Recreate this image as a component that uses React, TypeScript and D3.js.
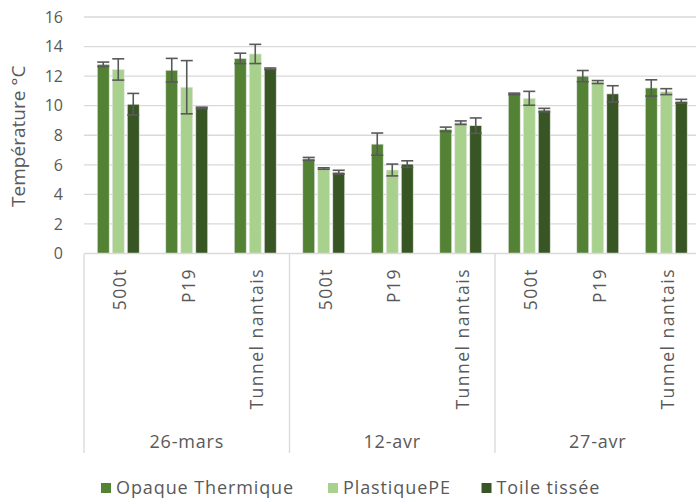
import React, { useRef, useEffect } from 'react';
import * as d3 from 'd3';

const dates = ['26-mars', '12-avr', '27-avr'];
const sites = ['500t', 'P19', 'Tunnel nantais'];
const seriesNames = ['Opaque Thermique', 'PlastiquePE', 'Toile tissée'];
const seriesColors = ['#548235', '#A9D18E', '#375623'];

// one value per date x site, in the order of dates then sites
const opaque = [12.8, 12.4, 13.2, 6.4, 7.4, 8.4, 10.8, 12.0, 11.2];
const opaqueErr = [0.15, 0.8, 0.35, 0.1, 0.75, 0.15, 0.05, 0.38, 0.55];
const plastique = [12.45, 11.25, 13.5, 5.75, 5.65, 8.85, 10.5, 11.6, 10.95];
const plastiqueErr = [0.72, 1.8, 0.65, 0.05, 0.4, 0.12, 0.47, 0.1, 0.2];
const toile = [10.1, 9.85, 12.5, 5.5, 6.05, 8.65, 9.7, 10.8, 10.3];
const toileErr = [0.73, 0.05, 0.05, 0.13, 0.22, 0.52, 0.12, 0.55, 0.13];
const yTicks = [0, 2, 4, 6, 8, 10, 12, 14, 16];

const values = [opaque, plastique, toile];
const errors = [opaqueErr, plastiqueErr, toileErr];

const FONT = '"Open Sans", Lato, sans-serif';
const TEXT = '#595959';

const App = () => {
  const ref = useRef(null);

  useEffect(() => {
    if (!ref.current) return;
    d3.select(ref.current).html('');

    const W = 696;
    const H = 502;
    const left = 84;
    const right = 700.5;
    const top = 17;
    const bottom = 253.5;

    const svg = d3
      .select(ref.current)
      .append('svg')
      .attr('width', W)
      .attr('height', H)
      .style('display', 'block')
      .style('font-family', FONT);

    const cats = dates.flatMap(d => sites.map(s => `${d}|${s}`));
    const x = d3.scaleBand().domain(cats).range([left, right]).padding(0);
    const xs = d3.scaleBand().domain(seriesNames).range([-21, 21]).paddingInner(0.2).paddingOuter(0);
    const y = d3.scaleLinear().domain([0, 16]).range([bottom, top]);

    // gridlines
    svg
      .append('g')
      .selectAll('line')
      .data(yTicks.slice(1))
      .join('line')
      .attr('x1', left)
      .attr('x2', right)
      .attr('y1', d => y(d))
      .attr('y2', d => y(d))
      .attr('stroke', '#D9D9D9')
      .attr('stroke-width', 1.3);

    // y tick labels
    svg
      .append('g')
      .selectAll('text')
      .data(yTicks)
      .join('text')
      .attr('x', 63)
      .attr('y', d => y(d))
      .attr('dy', '0.36em')
      .attr('text-anchor', 'end')
      .attr('font-size', 16)
      .attr('fill', TEXT)
      .text(d => d);

    // y title
    svg
      .append('text')
      .attr('transform', `translate(25,${(top + bottom) / 2 + 1}) rotate(-90)`)
      .attr('text-anchor', 'middle')
      .attr('font-size', 19)
      .attr('fill', TEXT)
      .text('Température °C');

    // bars
    const barData = values.flatMap((vals, si) =>
      vals.map((v, ci) => ({ cat: cats[ci], s: seriesNames[si], si, v, e: errors[si][ci] }))
    );
    const bw = xs.bandwidth();
    const bx = d => x(d.cat) + x.bandwidth() / 2 + xs(d.s);

    svg
      .append('g')
      .selectAll('rect')
      .data(barData)
      .join('rect')
      .attr('x', bx)
      .attr('y', d => y(d.v))
      .attr('width', bw)
      .attr('height', d => y(0) - y(d.v))
      .attr('fill', d => seriesColors[d.si])
      .attr('stroke', '#E8E8E8')
      .attr('stroke-width', 0.7);

    // error bars
    const eg = svg.append('g').attr('stroke', '#595959').attr('stroke-width', 1.6);
    barData.forEach(d => {
      const cx = bx(d) + bw / 2;
      const y1 = y(d.v + d.e);
      const y2 = y(d.v - d.e);
      eg.append('line').attr('x1', cx).attr('x2', cx).attr('y1', y1).attr('y2', y2);
      eg.append('line').attr('x1', cx - 6).attr('x2', cx + 6).attr('y1', y1).attr('y2', y1);
      eg.append('line').attr('x1', cx - 6).attr('x2', cx + 6).attr('y1', y2).attr('y2', y2);
    });

    // x axis line and group separators
    const axisG = svg.append('g').attr('stroke', '#D9D9D9').attr('stroke-width', 1.3);
    axisG.append('line').attr('x1', left).attr('x2', right).attr('y1', bottom).attr('y2', bottom);
    const groupW = (right - left) / dates.length;
    d3.range(dates.length + 1).forEach(i => {
      axisG
        .append('line')
        .attr('x1', left + i * groupW)
        .attr('x2', left + i * groupW)
        .attr('y1', bottom)
        .attr('y2', 453);
    });

    // site labels
    svg
      .append('g')
      .selectAll('text')
      .data(cats)
      .join('text')
      .attr('transform', d => `translate(${x(d) + x.bandwidth() / 2 + 2},268) rotate(-90)`)
      .attr('dy', '0.35em')
      .attr('text-anchor', 'end')
      .attr('font-size', 17.5)
      .attr('letter-spacing', 1.5)
      .attr('fill', TEXT)
      .text(d => d.split('|')[1]);

    // date labels
    svg
      .append('g')
      .selectAll('text')
      .data(dates)
      .join('text')
      .attr('x', (d, i) => left + (i + 0.5) * groupW)
      .attr('y', 442)
      .attr('dy', '0.35em')
      .attr('text-anchor', 'middle')
      .attr('font-size', 18)
      .attr('letter-spacing', 0.8)
      .attr('fill', TEXT)
      .text(d => d);

    // legend
    const legendX = [101, 328, 481.5];
    const lg = svg.append('g');
    seriesNames.forEach((name, i) => {
      lg.append('rect')
        .attr('x', legendX[i])
        .attr('y', 483)
        .attr('width', 10)
        .attr('height', 10)
        .attr('fill', seriesColors[i]);
      lg.append('text')
        .attr('x', legendX[i] + 15)
        .attr('y', 488)
        .attr('dy', '0.35em')
        .attr('font-size', 18)
        .attr('letter-spacing', 0.9)
        .attr('fill', TEXT)
        .text(name);
    });
  }, []);

  return <div ref={ref} style={{ position: 'absolute', left: 0, top: 0 }} />;
};

export default App;
